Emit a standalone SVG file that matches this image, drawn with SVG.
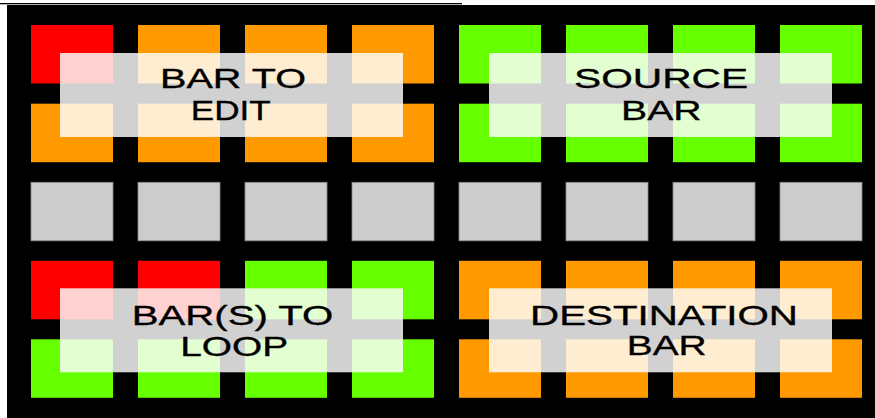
<svg xmlns="http://www.w3.org/2000/svg" width="875" height="418" viewBox="0 0 875 418">
<style>
.r{fill:#ff0000}
.o{fill:#ff9900}
.g{fill:#66ff00}
.y{fill:#cccccc;stroke:#8a8a8a;stroke-width:0.8}
.ov{fill:#ffffff;fill-opacity:0.82}
.t{font-family:"Liberation Sans",Arial,sans-serif;font-size:28.5px;fill:#000000;stroke:#000000;stroke-width:0.35;text-anchor:middle}
</style>
<defs>
<rect id="c" width="82" height="58.5"/>
</defs>
<rect x="0" y="0" width="875" height="418" fill="#ffffff"/>
<rect x="0" y="3" width="462" height="1.3" fill="#000000"/>
<rect x="7" y="5" width="868" height="413" fill="#000000"/>
<g id="grid">
<g id="row1">
<use href="#c" x="31" y="25" class="r"/>
<use href="#c" x="138" y="25" class="o"/>
<use href="#c" x="245" y="25" class="o"/>
<use href="#c" x="352" y="25" class="o"/>
<use href="#c" x="459" y="25" class="g"/>
<use href="#c" x="566" y="25" class="g"/>
<use href="#c" x="673" y="25" class="g"/>
<use href="#c" x="780" y="25" class="g"/>
</g>
<g id="row2">
<use href="#c" x="31" y="103.7" class="o"/>
<use href="#c" x="138" y="103.7" class="o"/>
<use href="#c" x="245" y="103.7" class="o"/>
<use href="#c" x="352" y="103.7" class="o"/>
<use href="#c" x="459" y="103.7" class="g"/>
<use href="#c" x="566" y="103.7" class="g"/>
<use href="#c" x="673" y="103.7" class="g"/>
<use href="#c" x="780" y="103.7" class="g"/>
</g>
<g id="row3">
<use href="#c" x="31" y="182.3" class="y"/>
<use href="#c" x="138" y="182.3" class="y"/>
<use href="#c" x="245" y="182.3" class="y"/>
<use href="#c" x="352" y="182.3" class="y"/>
<use href="#c" x="459" y="182.3" class="y"/>
<use href="#c" x="566" y="182.3" class="y"/>
<use href="#c" x="673" y="182.3" class="y"/>
<use href="#c" x="780" y="182.3" class="y"/>
</g>
<g id="row4">
<use href="#c" x="31" y="260.8" class="r"/>
<use href="#c" x="138" y="260.8" class="r"/>
<use href="#c" x="245" y="260.8" class="g"/>
<use href="#c" x="352" y="260.8" class="g"/>
<use href="#c" x="459" y="260.8" class="o"/>
<use href="#c" x="566" y="260.8" class="o"/>
<use href="#c" x="673" y="260.8" class="o"/>
<use href="#c" x="780" y="260.8" class="o"/>
</g>
<g id="row5">
<use href="#c" x="31" y="339.3" class="g"/>
<use href="#c" x="138" y="339.3" class="g"/>
<use href="#c" x="245" y="339.3" class="g"/>
<use href="#c" x="352" y="339.3" class="g"/>
<use href="#c" x="459" y="339.3" class="o"/>
<use href="#c" x="566" y="339.3" class="o"/>
<use href="#c" x="673" y="339.3" class="o"/>
<use href="#c" x="780" y="339.3" class="o"/>
</g>
</g>
<g id="bar-to-edit">
<rect class="ov" x="60" y="53" width="343" height="84"/>
<text class="t" transform="translate(233,88.3) scale(1.4,1)" textLength="104.3" lengthAdjust="spacingAndGlyphs">BAR TO</text>
<text class="t" transform="translate(230.7,120) scale(1.4,1)" textLength="57.1" lengthAdjust="spacingAndGlyphs">EDIT</text>
</g>
<g id="source-bar">
<rect class="ov" x="489" y="53" width="343" height="84"/>
<text class="t" transform="translate(661,88.3) scale(1.4,1)" textLength="124.3" lengthAdjust="spacingAndGlyphs">SOURCE</text>
<text class="t" transform="translate(661.3,120) scale(1.4,1)" textLength="57.5" lengthAdjust="spacingAndGlyphs">BAR</text>
</g>
<g id="bars-to-loop">
<rect class="ov" x="60" y="288.3" width="343" height="84"/>
<text class="t" transform="translate(232.5,324.8) scale(1.4,1)" textLength="144" lengthAdjust="spacingAndGlyphs">BAR(S) TO</text>
<text class="t" transform="translate(234.2,355.5) scale(1.4,1)" textLength="77.1" lengthAdjust="spacingAndGlyphs">LOOP</text>
</g>
<g id="destination-bar">
<rect class="ov" x="489" y="288.3" width="343" height="84"/>
<text class="t" transform="translate(664,324.5) scale(1.4,1)" textLength="191.4" lengthAdjust="spacingAndGlyphs">DESTINATION</text>
<text class="t" transform="translate(666.7,355.3) scale(1.4,1)" textLength="57.1" lengthAdjust="spacingAndGlyphs">BAR</text>
</g>
</svg>
